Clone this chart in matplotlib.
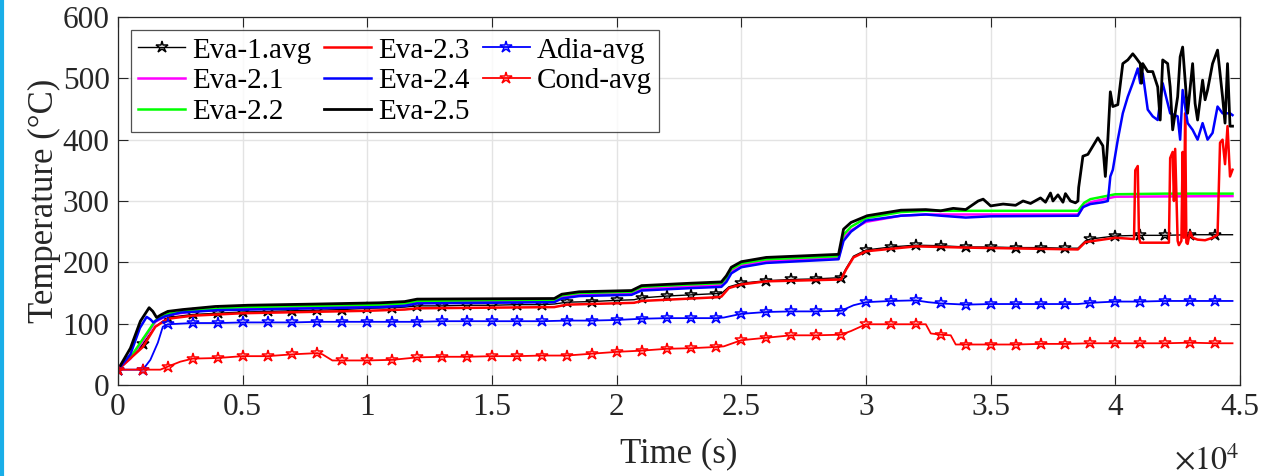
import matplotlib
matplotlib.use("Agg")
import matplotlib.pyplot as plt
from matplotlib.lines import Line2D
from matplotlib.ticker import FuncFormatter

plt.rcParams["font.family"] = ["Liberation Serif", "DejaVu Serif"]
plt.rcParams["mathtext.fontset"] = "stix"

# --- evaporator averages / adiabatic / condenser (starred, one marker per 1000 s) ---
t_eva1 = [0, 1000, 1500, 2000, 3000, 4000, 5000, 6000, 7000, 8000, 9000, 10000, 11000, 11500,
          12000, 13000, 14000, 15000, 16000, 17000, 17500, 18000, 19000, 20000, 20700, 21000,
          22000, 23000, 24000, 24200, 24500, 25000, 26000, 27000, 28000, 29000, 29200, 29500,
          30000, 31000, 32000, 33000, 34000, 35000, 36000, 37000, 38000, 38500, 38800, 39000,
          40000, 41000, 42000, 43000, 44000, 44700]
eva1_avg = [25, 67, 95, 110, 115, 117, 119, 120, 121, 122, 123, 125, 126, 127,
            129, 129, 130, 130, 131, 131, 132, 135, 136, 138, 139, 142,
            145, 147, 149, 149, 160, 166, 170, 172, 173, 175, 190, 210,
            220, 225, 228, 227, 225, 225, 224, 224, 223, 223, 235, 238,
            243, 244, 244, 245, 245, 245]

t_adia = [0, 1000, 1300, 1600, 1800, 2000, 3000, 4000, 5000, 6000, 7000, 8000, 9000, 10000,
          11000, 12000, 13000, 14000, 15000, 16000, 17000, 18000, 19000, 20000, 21000, 22000,
          23000, 24000, 24300, 25000, 26000, 27000, 28000, 29000, 29500, 30000, 31000, 32000,
          32500, 33000, 34000, 35000, 36000, 37000, 38000, 38500, 39000, 40000, 41000, 42000,
          43000, 44000, 44700]
adia_avg = [25, 25, 41, 69, 95, 99, 101, 101, 102, 102, 102, 103, 103, 103,
            103, 103, 104, 104, 104, 104, 104, 105, 105, 106, 108, 109,
            109, 109, 110, 116, 119, 120, 120, 121, 130, 135, 137, 138,
            135, 133, 131, 132, 132, 132, 132, 132, 134, 136, 136, 137,
            137, 137, 137]

t_cond = [0, 1000, 1700, 2000, 2500, 3000, 4000, 5000, 6000, 7000, 8000, 8200, 8600, 9000,
          10000, 11000, 12000, 13000, 14000, 15000, 16000, 17000, 18000, 19000, 20000, 21000,
          22000, 23000, 24000, 24300, 25000, 26000, 27000, 28000, 29000, 29400, 30000, 31000,
          32000, 32400, 32600, 33000, 33400, 33600, 34000, 35000, 36000, 37000, 38000, 39000,
          40000, 41000, 42000, 43000, 44000, 44700]
cond_avg = [25, 25, 25, 30, 38, 43, 44, 47, 47, 50, 52, 50, 40, 40,
            40, 41, 45, 46, 46, 47, 47, 48, 48, 51, 54, 56,
            59, 60, 62, 63, 73, 77, 81, 81, 82, 88, 99, 99,
            99, 99, 84, 82, 81, 66, 66, 66, 66, 67, 67, 68,
            68, 68, 68, 69, 68, 68]

# --- evaporator thermocouples ---
t_eva21 = [0, 500, 1000, 1500, 2000, 3000, 5000, 8000, 10500, 11500, 12000, 17500, 17800,
           18500, 20600, 21000, 23000, 24200, 24400, 24600, 25000, 26000, 28900, 29100, 29400,
           30000, 31400, 32400, 38500, 38750, 39000, 40000, 44700]
eva21 = [25, 43, 72, 103, 114, 120, 125, 127, 129, 131, 135, 137, 144,
         148, 150, 157, 161, 163, 172, 186, 195, 202, 207, 240, 252,
         266, 276, 278, 278, 292, 298, 307, 308]

t_eva22 = [0, 500, 1000, 1500, 2000, 3000, 5000, 8000, 10500, 11500, 12000, 17500, 17800,
           18500, 20600, 21000, 23000, 24200, 24400, 24600, 25000, 26000, 28900, 29100, 29400,
           30000, 31400, 32400, 38500, 38750, 39000, 40000, 42000, 44700]
eva22 = [25, 45, 75, 105, 116, 122, 127, 129, 131, 133, 137, 139, 146,
         150, 152, 160, 164, 166, 175, 189, 198, 205, 210, 245, 258,
         272, 282, 284, 284, 297, 303, 311, 312, 312]

t_eva23 = [0, 1000, 1500, 2000, 3000, 5000, 10000, 11500, 12000, 17500, 18000, 20700, 21000,
           24000, 24200, 24500, 25000, 26000, 29000, 29200, 29500, 30000, 32000, 34000, 38500,
           38800, 40000, 40750, 40800, 40900, 40950, 41000, 42150, 42200, 42300, 42350, 42400,
           42500, 42550, 42650, 42700, 42750, 42800, 42850, 42900, 43000, 43100, 43300, 43600,
           43900, 44100, 44200, 44300, 44400, 44500, 44600, 44700]
eva23 = [25, 62, 95, 108, 113, 117, 121, 123, 125, 127, 131, 134, 137,
         143, 144, 158, 164, 169, 172, 188, 208, 218, 226, 224, 221,
         233, 240, 238, 350, 357, 240, 232, 232, 370, 380, 300, 385,
         235, 228, 235, 380, 240, 443, 232, 230, 250, 240, 237, 236,
         240, 245, 395, 400, 360, 422, 340, 351]

t_eva24 = [0, 500, 880, 1150, 1300, 1420, 1620, 1890, 2500, 4000, 10500, 11500, 12000, 17500,
           17800, 18500, 20600, 21000, 23000, 24200, 24400, 24600, 25000, 26000, 28900, 29100,
           29400, 30000, 31400, 32400, 33000, 34000, 35000, 38500, 38700, 39000, 39500, 39700,
           39750, 39800, 39900, 40100, 40300, 40500, 40700, 40900, 41000, 41100, 41300, 41500,
           41700, 41900, 42200, 42500, 42600, 42700, 42900, 43100, 43300, 43500, 43700, 43900,
           44100, 44300, 44600, 44700]
eva24 = [25, 50, 93, 111, 107, 102, 107, 112, 118, 122, 127, 129, 133, 135,
         141, 145, 147, 154, 158, 160, 168, 182, 192, 199, 205, 235,
         250, 268, 276, 278, 276, 273, 275, 276, 290, 295, 298, 300,
         319, 340, 351, 400, 443, 470, 492, 516, 492, 508, 449, 438,
         432, 492, 443, 438, 400, 481, 427, 416, 400, 427, 400, 411,
         454, 443, 443, 440]

t_eva25 = [0, 500, 900, 1250, 1400, 1550, 1750, 2000, 2600, 3900, 5200, 8000, 10500, 11500,
           12000, 17500, 17800, 18500, 20600, 21000, 23000, 24200, 24400, 24600, 25000, 26000,
           28900, 29100, 29400, 30050, 31400, 32400, 33000, 33500, 34000, 34500, 34700, 35000,
           35500, 36000, 36300, 36600, 37000, 37200, 37400, 37500, 37700, 37900, 38000, 38200,
           38400, 38500, 38530, 38700, 38900, 39300, 39500, 39600, 39700, 39800, 39900, 40100,
           40300, 40500, 40700, 40800, 41000, 41050, 41100, 41300, 41500, 41700, 41800, 41900,
           42100, 42200, 42300, 42500, 42600, 42700, 42900, 43100, 43200, 43300, 43500, 43600,
           43700, 43900, 44100, 44300, 44400, 44500, 44600, 44700]
eva25 = [25, 60, 104, 126, 120, 110, 115, 120, 123, 128, 130, 132, 134, 136,
         140, 141, 148, 152, 154, 162, 166, 168, 178, 192, 201, 208,
         213, 254, 265, 276, 285, 286, 284, 288, 286, 300, 303, 292,
         295, 293, 300, 296, 305, 298, 313, 300, 310, 298, 312, 300,
         297, 300, 322, 373, 376, 403, 390, 340, 400, 478, 454, 457,
         524, 530, 540, 535, 524, 492, 524, 511, 511, 486, 432, 530,
         524, 486, 416, 470, 535, 551, 443, 524, 459, 432, 497, 465,
         481, 524, 546, 470, 427, 524, 422, 422]

fig = plt.figure(figsize=(12.71, 4.76), dpi=100)
ax = fig.add_axes([0.0928, 0.1912, 0.8828, 0.7731])

# thin cyan strip down the left edge
fig.add_artist(Line2D([0.0012, 0.0012], [0, 1], transform=fig.transFigure,
                      color="#19aee8", lw=3))


def star_every_1000(t):
    return [i for i, v in enumerate(t) if v % 1000 == 0]


star = dict(marker="*", markerfacecolor="none", markersize=9, markeredgewidth=1.1)

ax.plot(t_eva1, eva1_avg, color="k", lw=1.0, markevery=star_every_1000(t_eva1),
        label="Eva-1.avg", **star)
ax.plot(t_eva21, eva21, color="#ff00ff", lw=1.8, label="Eva-2.1")
ax.plot(t_eva22, eva22, color="#00ff00", lw=1.8, label="Eva-2.2")
ax.plot(t_eva23, eva23, color="#ff0000", lw=1.8, label="Eva-2.3")
ax.plot(t_eva24, eva24, color="#0000ff", lw=1.8, label="Eva-2.4")
ax.plot(t_eva25, eva25, color="k", lw=2.0, label="Eva-2.5")
ax.plot(t_adia, adia_avg, color="#0000ff", lw=1.3, markevery=star_every_1000(t_adia),
        label="Adia-avg", **star)
ax.plot(t_cond, cond_avg, color="#ff0000", lw=1.3, markevery=star_every_1000(t_cond),
        label="Cond-avg", **star)

ax.set_xlim(0, 45000)
ax.set_ylim(0, 600)
ax.set_xticks(range(0, 45001, 5000))
ax.set_yticks(range(0, 601, 100))
ax.xaxis.set_major_formatter(FuncFormatter(lambda v, _: f"{v / 1e4:g}"))
ax.tick_params(direction="in", length=7, width=0.8, labelsize=22.5, top=True, right=True,
               colors="#262626", labelcolor="#262626", pad=6)
ax.grid(True, color="#e3e3e3", lw=1.0)
ax.set_axisbelow(True)
for s in ax.spines.values():
    s.set_color("#262626")
    s.set_linewidth(0.9)

ax.set_xlabel("Time (s)", fontsize=25, color="#262626", labelpad=11)
ax.set_ylabel("Temperature (°C)", fontsize=25, color="#262626", labelpad=1)
ax.text(1.0, -0.165, r"$\times10^4$", transform=ax.transAxes, ha="right", va="top",
        fontsize=23, color="#262626")

leg = ax.legend(loc="upper left", bbox_to_anchor=(0.0116, 0.965), borderaxespad=0,
                ncol=3, fontsize=21, frameon=True, fancybox=False, handlelength=1.6,
                handletextpad=0.25, columnspacing=0.45, labelspacing=0.15,
                borderpad=0.25)
leg.get_frame().set_edgecolor("#262626")
leg.get_frame().set_linewidth(0.9)

fig.savefig("out.png", dpi=100)
